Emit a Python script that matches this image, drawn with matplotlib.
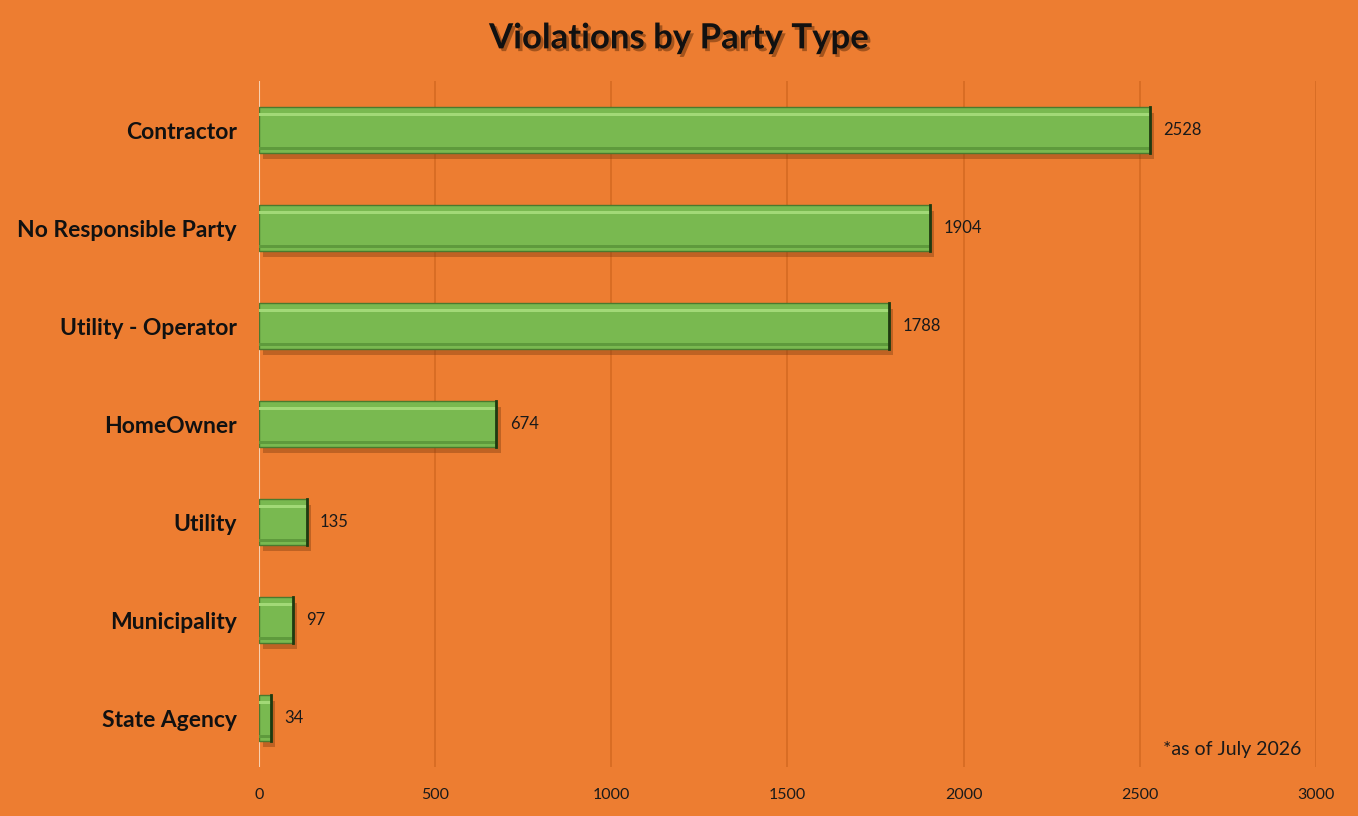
import matplotlib.pyplot as plt
import matplotlib.patheffects as pe

# data
categories = ["Contractor", "No Responsible Party", "Utility - Operator",
              "HomeOwner", "Utility", "Municipality", "State Agency"]
violations = [2528, 1904, 1788, 674, 135, 97, 34]
x_ticks = [0, 500, 1000, 1500, 2000, 2500, 3000]

bg = "#ED7D31"
plt.rcParams['font.family'] = ['Lato', 'DejaVu Sans']

fig = plt.figure(figsize=(13.58, 8.16), dpi=100, facecolor=bg)
ax = fig.add_axes([0.1907, 0.060, 0.7783, 0.8407])
ax.set_facecolor(bg)

ypos = list(range(len(categories)))[::-1]
bars = ax.barh(ypos, violations, height=0.47, color="#79B950",
               edgecolor="#4A7A2E", linewidth=1.0, zorder=3)
for b in bars:
    b.set_path_effects([pe.SimplePatchShadow(offset=(3, -4), shadow_rgbFace="#7A3A10", alpha=0.4),
                        pe.Normal()])
    # bevel: light band near the top, darker band at the bottom
    x0, y0, w, h = b.get_x(), b.get_y(), b.get_width(), b.get_height()
    ax.fill_between([x0, x0 + w], y0 + h * 0.80, y0 + h * 0.88, color="#A2D977", lw=0, zorder=4)
    ax.fill_between([x0, x0 + w], y0 + h * 0.06, y0 + h * 0.14, color="#5E9A3C", lw=0, zorder=4)
    ax.plot([x0 + w, x0 + w], [y0, y0 + h], color="#1F3A10", lw=2, zorder=5)

for y, v in zip(ypos, violations):
    ax.text(v + 38, y, str(v), va="center", ha="left", fontsize=12, color="#1a1a1a")

ax.set_xlim(0, 3000)
ax.set_ylim(-0.5, len(categories) - 0.5)
ax.set_xticks(x_ticks)
ax.set_xticklabels([str(t) for t in x_ticks], fontsize=11.5, color="#1a1a1a")
ax.set_yticks(ypos)
ax.set_yticklabels(categories, fontsize=16.5, fontweight="bold", color="#111111")
ax.tick_params(axis="both", length=0)
ax.tick_params(axis="x", pad=15)
ax.tick_params(axis="y", pad=16)
ax.grid(axis="x", color="#D56A22", linewidth=1.2, zorder=0)
ax.axvline(0, color="#F8D0B0", linewidth=1.5, zorder=2)
for s in ax.spines.values():
    s.set_visible(False)

fig.text(0.5, 0.953, "Violations by Party Type", ha="center", va="center",
         fontsize=25, fontweight="bold", color="#111111",
         path_effects=[pe.withSimplePatchShadow(offset=(2, -2), shadow_rgbFace="#5a2a08", alpha=0.5)])
fig.text(0.958, 0.082, "*as of July 2026", ha="right", va="center",
         fontsize=14, color="#1a1a1a")

fig.savefig("out.png", dpi=100, facecolor=bg)
